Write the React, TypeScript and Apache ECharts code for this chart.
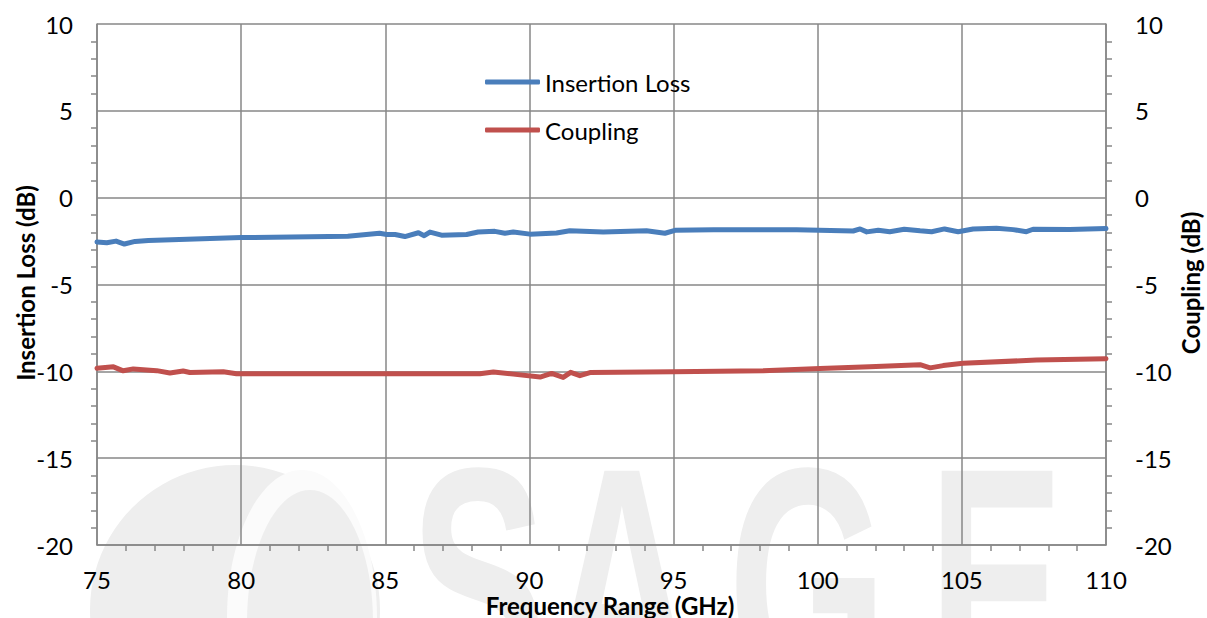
import React, { useEffect, useRef } from "react";
import * as echarts from "echarts";

// Frequency (GHz) and Insertion Loss (dB)
const ilFreq = [75, 75.34, 75.66, 75.95, 76.32, 76.78, 80, 83.7, 84.8, 85.05, 85.34, 85.68, 86.15, 86.35, 86.55, 86.95, 87.82, 88.22, 88.8, 89.15, 89.44, 90.02, 90.94, 91.4, 92.56, 94.06, 94.7, 95.05, 96.38, 99.27, 101.23, 101.47, 101.7, 102.1, 102.5, 103.0, 103.55, 103.95, 104.4, 104.87, 105.39, 106.2, 106.78, 107.24, 107.47, 108.74, 110];
const insertionLoss = [-2.55, -2.6, -2.5, -2.67, -2.52, -2.47, -2.3, -2.22, -2.05, -2.12, -2.12, -2.24, -2.02, -2.19, -1.98, -2.16, -2.12, -1.98, -1.94, -2.05, -1.98, -2.1, -2.03, -1.9, -1.98, -1.9, -2.05, -1.88, -1.85, -1.85, -1.92, -1.8, -1.97, -1.88, -1.96, -1.82, -1.91, -1.96, -1.8, -1.96, -1.8, -1.76, -1.84, -1.96, -1.82, -1.84, -1.78];

// Frequency (GHz) and Coupling (dB)
const cpFreq = [75, 75.57, 75.91, 76.26, 77.07, 77.53, 77.99, 78.22, 79.38, 79.84, 88.28, 88.75, 89.44, 90.37, 90.77, 91.17, 91.43, 91.75, 92.1, 94.99, 98.11, 100.08, 101.8, 103.55, 103.9, 104.35, 105.04, 107.59, 110];
const coupling = [-9.82, -9.74, -9.97, -9.86, -9.96, -10.1, -9.98, -10.07, -10.02, -10.14, -10.14, -10.04, -10.16, -10.33, -10.12, -10.35, -10.06, -10.25, -10.07, -10.03, -9.96, -9.83, -9.74, -9.62, -9.8, -9.67, -9.54, -9.35, -9.28];

const xTicks = [75, 110, 5];
const yTicks = [-20, 10, 5];

const xName = "Frequency Range (GHz)";
const yLeftName = "Insertion Loss (dB)";
const yRightName = "Coupling (dB)";

const FONT = "Lato, 'Open Sans', sans-serif";
const AXIS_GRAY = "#878787";
const WM = "#eeeeee";

export default function App() {
  const ref = useRef<HTMLDivElement>(null);
  useEffect(() => {
    if (!ref.current) return;
    document.body.style.margin = "0";
    document.body.style.overflow = "hidden";
    document.documentElement.style.overflow = "hidden";
    const chart = echarts.init(ref.current, undefined, { renderer: "svg" });
    const yAxisBase = (pos: "left" | "right") => ({
      type: "value",
      position: pos,
      min: yTicks[0],
      max: yTicks[1],
      interval: yTicks[2],
      axisLine: { show: true, lineStyle: { color: AXIS_GRAY, width: 1.5 } },
      axisTick: { show: false },
      minorTick: { show: true, splitNumber: 5, length: 6, lineStyle: { color: AXIS_GRAY, width: 1.5 } },
      axisLabel: {
        fontFamily: FONT,
        fontSize: 24,
        color: "#000",
        margin: pos === "left" ? 24 : 29,
      },
      splitLine: { show: pos === "left", lineStyle: { color: AXIS_GRAY, width: 1.5 } },
    });
    const wmText = (ch: string, x: number) => ({
      type: "text",
      z: -10,
      silent: true,
      x,
      y: 418,
      scaleX: 0.62,
      style: { text: ch, fontSize: 330, fontWeight: "bold", fontFamily: "'Liberation Sans'", fill: WM },
    });
    const nameText = (text: string, x: number, y: number, rotation: number) => ({
      type: "text",
      z: 10,
      silent: true,
      x,
      y,
      rotation,
      style: {
        text,
        fontSize: 24,
        fontWeight: "bold",
        fontFamily: FONT,
        fill: "#000",
        align: "center",
        verticalAlign: "middle",
      },
    });
    const option: any = {
      animation: false,
      backgroundColor: "#fff",
      grid: { left: 97, right: 101, top: 24, bottom: 73, containLabel: false, outerBoundsMode: "none" },
      graphic: [
        { type: "circle", z: -10, silent: true, shape: { cx: 235, cy: 610, r: 145 }, style: { fill: WM } },
        { type: "ellipse", z: -9, silent: true, shape: { cx: 302, cy: 618, rx: 75, ry: 148 }, style: { fill: "#fbfbfb" } },
        { type: "ellipse", z: -8, silent: true, shape: { cx: 310, cy: 622, rx: 63, ry: 132 }, style: { fill: WM } },
        wmText("S", 410),
        wmText("A", 548),
        wmText("G", 728),
        wmText("E", 928),
        nameText(xName, 610, 605, 0),
        nameText(yLeftName, 25, 283, Math.PI / 2),
        nameText(yRightName, 1190, 283, Math.PI / 2),
      ],
      legend: {
        orient: "vertical",
        left: 480,
        top: 65,
        itemGap: 24,
        itemWidth: 55,
        itemHeight: 5,
        icon: "roundRect",
        textStyle: { fontFamily: FONT, fontSize: 24, color: "#000" },
        data: ["Insertion Loss", "Coupling"],
      },
      xAxis: {
        type: "value",
        min: xTicks[0],
        max: xTicks[1],
        interval: xTicks[2],
        axisLine: { show: true, onZero: false, lineStyle: { color: AXIS_GRAY, width: 1.5 } },
        axisTick: { show: false },
        minorTick: { show: true, splitNumber: 5, length: 6, lineStyle: { color: AXIS_GRAY, width: 1.5 } },
        axisLabel: { fontFamily: FONT, fontSize: 24, color: "#000", margin: 22 },
        splitLine: { show: true, lineStyle: { color: AXIS_GRAY, width: 1.5 } },
      },
      yAxis: [yAxisBase("left"), yAxisBase("right")],
      series: [
        {
          name: "Insertion Loss",
          type: "line",
          yAxisIndex: 0,
          symbol: "none",
          data: ilFreq.map((f, i) => [f, insertionLoss[i]]),
          lineStyle: { color: "#4a7ebb", width: 5, cap: "round", join: "round" },
          itemStyle: { color: "#4a7ebb" },
        },
        {
          name: "Coupling",
          type: "line",
          yAxisIndex: 1,
          symbol: "none",
          data: cpFreq.map((f, i) => [f, coupling[i]]),
          lineStyle: { color: "#c0504d", width: 5, cap: "round", join: "round" },
          itemStyle: { color: "#c0504d" },
        },
      ],
    };
    chart.setOption(option);
    return () => chart.dispose();
  }, []);
  return (
    <div
      ref={ref}
      style={{ width: 1207, height: 618, position: "fixed", left: 0, top: 0, overflow: "hidden" }}
    />
  );
}
